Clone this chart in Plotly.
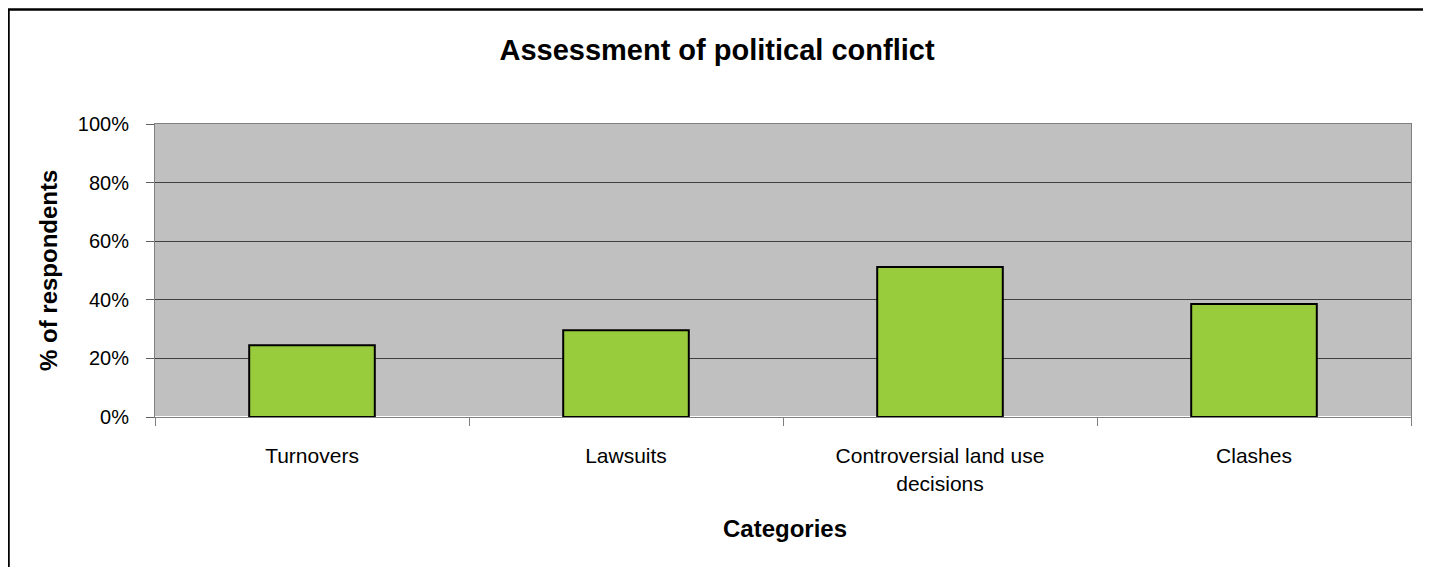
import plotly.graph_objects as go

categories = ["Turnovers", "Lawsuits", "Controversial land use<br>decisions", "Clashes"]
values = [24.5, 29.6, 51.2, 38.6]
y_ticks = [0, 20, 40, 60, 80, 100]
y_tick_text = [f"{v}%" for v in y_ticks]

font = "Liberation Sans, Arial, sans-serif"

# page has an 8px body margin, so the figure is sized and placed with that in mind
W, H = 1423, 559
L, R, T, B = 147, 20, 116, 150
pw, ph = W - L - R, H - T - B

fig = go.Figure()
fig.add_trace(go.Bar(
    x=categories, y=values,
    marker=dict(color="#99CC3D", line=dict(color="black", width=2)),
    width=0.4, showlegend=False,
))

fig.update_layout(
    width=W, height=H,
    margin=dict(l=L, r=R, t=T, b=B),
    paper_bgcolor="white", plot_bgcolor="#C0C0C0",
    font=dict(family=font, size=20, color="black"),
    title=dict(text="<b>Assessment of political conflict</b>", x=(717 - 8) / W, xanchor="center",
               xref="container", yref="container",
               y=1 - 42 / H, yanchor="middle", font=dict(size=29)),
)
fig.update_xaxes(
    tickson="boundaries", ticks="outside", ticklen=8, tickcolor="#808080",
    showline=True, linecolor="#808080", linewidth=1, mirror=True,
    tickfont=dict(size=21), ticklabelstandoff=20,
)
fig.update_yaxes(
    range=[0, 100], tickvals=y_ticks, ticktext=y_tick_text,
    ticks="outside", ticklen=8, tickcolor="#606060",
    showline=True, linecolor="#808080", linewidth=1, mirror=True,
    showgrid=True, gridcolor="#404040", gridwidth=1,
    tickfont=dict(size=20), ticklabelstandoff=13,
)

# axis titles
fig.add_annotation(text="<b>Categories</b>", xref="paper", yref="paper",
                   x=(785 - 8 - L) / pw, y=-(520 - (T + ph)) / ph,
                   xanchor="center", yanchor="middle", showarrow=False,
                   font=dict(size=24))
fig.add_annotation(text="<b>% of respondents</b>", xref="paper", yref="paper",
                   x=(40 - L) / pw, y=(T + ph - (271 - 8)) / ph, textangle=-90,
                   xanchor="center", yanchor="middle", showarrow=False,
                   font=dict(size=24))

# outer chart frame
fig.add_shape(type="rect", xref="paper", yref="paper",
              x0=(0.5 - L) / pw, x1=(1420 - L) / pw,
              y0=-(H + 20 - T - ph) / ph, y1=(T + ph - 1.5) / ph,
              line=dict(color="black", width=2.5), layer="above")

fig.write_html("out.html")
